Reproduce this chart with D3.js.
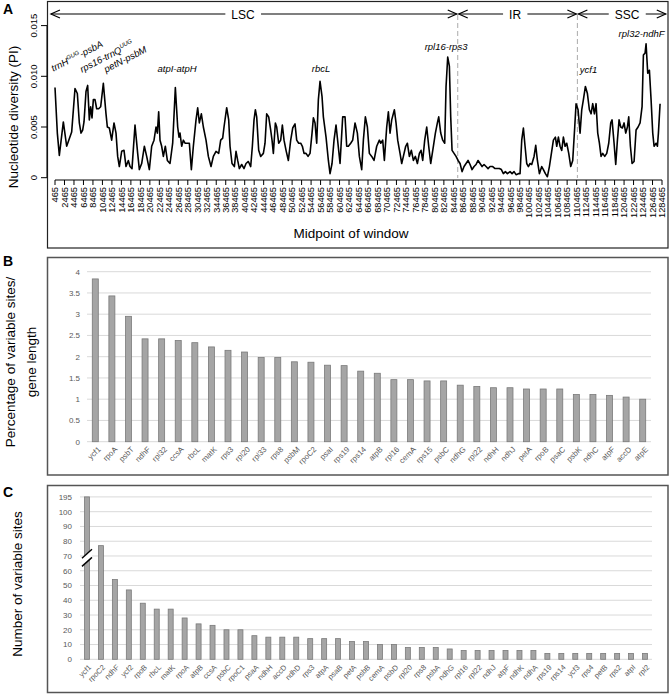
<!DOCTYPE html>
<html><head><meta charset="utf-8">
<script src="https://cdn.jsdelivr.net/npm/d3@7"></script>
<style>body{margin:0;background:#fff}svg{display:block;font-family:"Liberation Sans",Arial,sans-serif}</style>
</head><body>
<script>
// ---------- Panel A data ----------
const piMid = [465,957,1379,2223,2926,3980,4683,5175,5597,5948,6300,6581,7003,7354,7706,7987,8268,8550,8901,9253,9674,10096,10659,11221,11502,11924,12416,12908,13330,13681,14033,14525,15017,15439,15931,16283,16704,17337,17899,18251,18743,19305,19798,20360,20852,21344,21766,22046,22328,22610,22961,23313,23734,24156,24719,25281,25843,26335,26616,26828,27179,27531,27882,28234,28796,29218,29640,30202,30554,30905,31327,31749,32311,32803,33365,33858,34420,34982,35404,35826,36107,36670,37092,37373,37794,38286,38638,38989,39341,39833,40325,40747,41239,41731,42083,42434,42716,42997,43418,43840,44403,44754,45106,45527,45949,46230,46512,46934,47215,47637,48058,48410,48761,49183,49675,50167,50589,51081,51433,51854,52276,52627,52979,53401,53823,54245,54666,54948,55299,55651,56002,56354,56776,57057,57619,58111,58463,58884,59306,59728,60571,61133,61626,61977,62329,62821,63242,63735,64227,64648,65141,65492,65914,66336,66757,67250,67742,68304,68866,69148,69569,69921,70413,70765,71116,71468,72030,72381,72733,73225,73577,73928,74420,74772,75193,75615,76037,76459,76881,77302,77654,78005,78427,78849,79271,79693,80255,80677,81099,81380,81802,82223,82645,82926,83278,83629,83911,84192,84614,85035,85457,85879,86301,86723,87144,87566,87988,88410,88832,89253,89675,90097,90519,90941,91362,91784,92206,92768,93261,93753,94174,94596,95018,95440,95862,96424,96846,97268,97689,98182,98533,98885,99236,99588,99939,100291,100642,100994,101486,101838,102189,102611,103103,103454,103876,104298,104720,105141,105563,105985,106266,106618,106969,107321,107672,108024,108375,108797,109219,109640,110062,110343,110765,111187,111539,111890,112312,112734,113155,113507,113858,114210,114562,114913,115265,115616,115968,116390,116811,117233,117655,117936,118358,118709,119061,119413,119764,120116,120467,120819,121170,121451,121803,122154,122576,122998,123420,123841,124263,124544,124896,125106,125458,125810,126161,126513,126794,127216,127497,127708,128059];
const piVal = [0.0089,0.0044,0.0022,0.0055,0.0031,0.0045,0.0088,0.0083,0.0054,0.0044,0.0047,0.0055,0.0085,0.0091,0.0057,0.0070,0.0059,0.0077,0.0077,0.0068,0.0068,0.0070,0.0093,0.0063,0.0050,0.0049,0.0037,0.0054,0.0044,0.0021,0.0011,0.0026,0.0027,0.0011,0.0017,0.0011,0.0009,0.0052,0.0024,0.0008,0.0014,0.0031,0.0021,0.0008,0.0031,0.0037,0.0050,0.0044,0.0065,0.0037,0.0031,0.0021,0.0031,0.0017,0.0014,0.0034,0.0089,0.0050,0.0040,0.0044,0.0031,0.0037,0.0034,0.0034,0.0034,0.0008,0.0031,0.0057,0.0069,0.0054,0.0063,0.0050,0.0037,0.0021,0.0011,0.0021,0.0026,0.0024,0.0037,0.0039,0.0050,0.0069,0.0057,0.0031,0.0014,0.0011,0.0026,0.0017,0.0009,0.0013,0.0009,0.0014,0.0016,0.0011,0.0031,0.0057,0.0067,0.0060,0.0027,0.0021,0.0024,0.0034,0.0063,0.0060,0.0047,0.0037,0.0024,0.0054,0.0050,0.0034,0.0037,0.0052,0.0037,0.0027,0.0017,0.0037,0.0049,0.0053,0.0037,0.0034,0.0034,0.0031,0.0024,0.0024,0.0021,0.0024,0.0044,0.0059,0.0054,0.0034,0.0077,0.0095,0.0080,0.0060,0.0040,0.0017,0.0004,0.0014,0.0037,0.0052,0.0014,0.0060,0.0060,0.0031,0.0031,0.0034,0.0037,0.0054,0.0044,0.0021,0.0008,0.0037,0.0060,0.0050,0.0024,0.0021,0.0017,0.0031,0.0037,0.0034,0.0037,0.0017,0.0050,0.0065,0.0044,0.0057,0.0067,0.0054,0.0037,0.0024,0.0014,0.0021,0.0031,0.0034,0.0021,0.0027,0.0017,0.0021,0.0014,0.0024,0.0027,0.0017,0.0037,0.0050,0.0031,0.0014,0.0031,0.0044,0.0054,0.0060,0.0044,0.0037,0.0034,0.0090,0.0119,0.0110,0.0060,0.0027,0.0024,0.0021,0.0017,0.0014,0.0006,0.0011,0.0014,0.0017,0.0013,0.0008,0.0011,0.0013,0.0017,0.0014,0.0011,0.0013,0.0011,0.0009,0.0011,0.0011,0.0009,0.0009,0.0009,0.0008,0.0004,0.0006,0.0004,0.0006,0.0004,0.0006,0.0003,0.0004,0.0004,0.0037,0.0049,0.0031,0.0014,0.0011,0.0014,0.0013,0.0021,0.0032,0.0017,0.0004,0.0011,0.0008,0.0004,0.0001,0.0011,0.0024,0.0037,0.0040,0.0031,0.0040,0.0031,0.0027,0.0040,0.0031,0.0034,0.0024,0.0011,0.0017,0.0050,0.0073,0.0067,0.0044,0.0067,0.0077,0.0090,0.0083,0.0067,0.0063,0.0073,0.0063,0.0073,0.0044,0.0034,0.0021,0.0024,0.0021,0.0024,0.0034,0.0054,0.0057,0.0034,0.0013,0.0037,0.0057,0.0050,0.0049,0.0054,0.0044,0.0050,0.0060,0.0031,0.0014,0.0016,0.0047,0.0050,0.0054,0.0070,0.0121,0.0123,0.0132,0.0103,0.0106,0.0077,0.0044,0.0031,0.0034,0.0031,0.0044,0.0073];
const xTicksA = d3.range(465, 128466, 2000);
const yTicksA = [0, 0.005, 0.010, 0.015];
const yTickLabelsA = ["0", "0.005", "0.010", "0.015"];
const regionNames = ["LSC", "IR", "SSC"];
const regionStart = [-600, 85394, 110620];
const regionEnd = [85394, 110620, 129470];
const regionLabelBp = [40115, 97479, 121100];
const boundaryBp = [85394, 110620];
const annotMain = ["trnH", "rps16-trnQ", "petN-psbM", "atpI-atpH", "rbcL", "rpl16-rps3", "ycf1", "rpl32-ndhF"];
const annotSup = ["GUG", "UUG", "", "", "", "", "", ""];
const annotTail = ["-psbA", "", "", "", "", "", "", ""];
const annotBp = [106, 6159, 11221, 26195, 56564, 82927, 112981, 124155];
const annotPi = [0.01045, 0.01036, 0.01036, 0.01045, 0.01042, 0.01259, 0.01036, 0.01385];

// ---------- Panel B data ----------
const genesB = ["ycf1","rpoA","psbT","ndhF","rpl32","ccsA","rbcL","matK","rps3","rpl20","rpl33","rps8","psbM","rpoC2","psaI","rps19","rps14","atpB","rpl16","cemA","rps15","psbC","ndhG","rpl22","ndhH","ndhJ","petA","rpoB","psaC","psbK","ndhC","atpF","accD","atpE"];
const pctB = [3.83,3.43,2.95,2.42,2.42,2.38,2.33,2.23,2.15,2.11,1.98,1.98,1.88,1.87,1.80,1.79,1.66,1.61,1.46,1.46,1.43,1.43,1.33,1.30,1.27,1.27,1.24,1.24,1.24,1.11,1.11,1.09,1.05,1.00];
const ticksB = [0,0.5,1,1.5,2,2.5,3,3.5,4];

// ---------- Panel C data ----------
const genesC = ["ycf1","rpoC2","ndhF","ycf2","rpoB","rbcL","matK","rpoA","atpB","ccsA","psbC","rpoC1","psaA","ndhH","accD","ndhD","rps3","atpA","psaB","petA","psbB","cemA","psbD","rpl20","rps8","psbA","ndhG","rpl16","rpl22","ndhJ","atpF","ndhK","ndhA","rps19","rps14","ycf3","rps4","petB","rps2","atpI","rpl2"];
const countC = [195,77,54,47,38,34,34,28,24,23,20,20,16,15,15,15,14,14,14,12,12,10,10,8,8,8,7,6,6,6,6,6,6,4,4,4,4,4,4,4,4];
const ticksC = [0,10,20,30,40,50,60,70,80,90,100,195];

// ---------- drawing ----------
const svg = d3.select("body").append("svg").attr("width", 670).attr("height", 695);

// ===== Panel A =====
const gA = svg.append("g");
const xA = d3.scaleLinear().domain([465, 128465]).range([55, 662]);
const yA = d3.scaleLinear().domain([0, 0.015]).range([177.7, 25.6]);

gA.append("rect").attr("x", 47.5).attr("y", 1.5).attr("width", 620.5).attr("height", 246.5)
  .attr("fill", "none").attr("stroke", "#222").attr("stroke-width", 1.2);
svg.append("text").attr("x", 3).attr("y", 14).attr("font-size", 14).attr("font-weight", "bold").text("A");

// x axis
const xAxisA = gA.append("g").attr("transform", "translate(0,180)");
xAxisA.append("line").attr("x1", xA(465)).attr("x2", xA(128465)).attr("stroke", "#000");
xAxisA.selectAll("line.t").data(xTicksA).join("line").attr("class", "t")
  .attr("x1", d => xA(d)).attr("x2", d => xA(d)).attr("y1", 0).attr("y2", 5).attr("stroke", "#000");
xAxisA.selectAll("text").data(xTicksA).join("text")
  .attr("transform", d => `translate(${xA(d)},7) rotate(-90)`)
  .attr("text-anchor", "end").attr("dy", "0.35em").attr("font-size", 9.3).text(d => d);

// y axis
const yAxisA = gA.append("g");
yAxisA.append("line").attr("x1", 47).attr("x2", 47).attr("y1", yA(0)).attr("y2", yA(0.015)).attr("stroke", "#000");
yAxisA.selectAll("line.t").data(yTicksA).join("line").attr("class", "t")
  .attr("x1", 41).attr("x2", 47).attr("y1", d => yA(d)).attr("y2", d => yA(d)).attr("stroke", "#000");
yAxisA.selectAll("text").data(yTicksA).join("text")
  .attr("transform", d => `translate(37,${yA(d)}) rotate(-90)`)
  .attr("text-anchor", "middle").attr("font-size", 9.5).text((d, i) => yTickLabelsA[i]);

svg.append("text").attr("transform", "translate(18,117) rotate(-90)").attr("text-anchor", "middle")
  .attr("font-size", 13.5).text("Nucleotide diversity (PI)");
svg.append("text").attr("x", 351).attr("y", 238).attr("text-anchor", "middle")
  .attr("font-size", 13.5).text("Midpoint of window");

// boundaries
gA.selectAll("line.b").data(boundaryBp).join("line").attr("class", "b")
  .attr("x1", d => xA(d)).attr("x2", d => xA(d)).attr("y1", 15).attr("y2", 178)
  .attr("stroke", "#aaa").attr("stroke-dasharray", "5,3").attr("stroke-width", 1);

// region arrows
const arrowY = 14;
const gArr = gA.append("g");
regionNames.forEach((name, i) => {
  const x1 = xA(regionStart[i]) + 1, x2 = xA(regionEnd[i]) - 1;
  gArr.append("line").attr("x1", x1).attr("x2", x2).attr("y1", arrowY).attr("y2", arrowY).attr("stroke", "#000").attr("stroke-width", 1.2);
  gArr.append("path").attr("d", `M${x1 + 9},${arrowY - 4}L${x1},${arrowY}L${x1 + 9},${arrowY + 4}`)
    .attr("fill", "none").attr("stroke", "#000").attr("stroke-width", 1.2);
  gArr.append("path").attr("d", `M${x2 - 9},${arrowY - 4}L${x2},${arrowY}L${x2 - 9},${arrowY + 4}`)
    .attr("fill", "none").attr("stroke", "#000").attr("stroke-width", 1.2);
  const r = gArr.append("rect").attr("fill", "#fff");
  const t = gArr.append("text").attr("x", xA(regionLabelBp[i])).attr("y", arrowY + 4.5)
    .attr("text-anchor", "middle").attr("font-size", 12).text(name);
  const bb = t.node().getBBox();
  r.attr("x", bb.x - 6).attr("y", arrowY - 3).attr("width", bb.width + 12).attr("height", 6);
});

// line
gA.append("path").datum(piMid.map((m, i) => [m, piVal[i]]))
  .attr("d", d3.line().x(d => xA(d[0])).y(d => yA(d[1])))
  .attr("fill", "none").attr("stroke", "#000").attr("stroke-width", 1.6).attr("stroke-linejoin", "round");

// annotations
annotMain.forEach((txt, i) => {
  const rotated = i < 3;
  const t = gA.append("text").attr("font-size", 9.5).attr("font-style", "italic")
    .attr("text-anchor", rotated ? "start" : "middle")
    .attr("transform", `translate(${xA(annotBp[i])},${yA(annotPi[i])})` + (rotated ? " rotate(-27)" : ""));
  t.append("tspan").text(txt);
  if (annotSup[i]) t.append("tspan").attr("font-size", 6).attr("dy", -4).text(annotSup[i]);
  if (annotTail[i]) t.append("tspan").attr("dy", 4).text(annotTail[i]);
});

// ===== Panel B =====
const gB = svg.append("g");
gB.append("rect").attr("x", 47.5).attr("y", 257.5).attr("width", 620.5).attr("height", 217.5)
  .attr("fill", "none").attr("stroke", "#555").attr("stroke-width", 1.5);
svg.append("text").attr("x", 3).attr("y", 266).attr("font-size", 14).attr("font-weight", "bold").text("B");
const xB = d3.scaleBand().domain(genesB).range([87, 651]);
const yB = d3.scaleLinear().domain([0, 4]).range([441.7, 271.7]);
gB.selectAll("line.g").data(ticksB).join("line").attr("class", "g")
  .attr("x1", 87).attr("x2", 651).attr("y1", d => yB(d)).attr("y2", d => yB(d))
  .attr("stroke", "#d9d9d9").attr("stroke-width", 1);
gB.selectAll("text.yt").data(ticksB).join("text").attr("class", "yt")
  .attr("x", 80).attr("y", d => yB(d)).attr("dy", "0.35em").attr("text-anchor", "end")
  .attr("font-size", 8).attr("fill", "#595959").text(d => d);
gB.selectAll("rect.bar").data(genesB).join("rect").attr("class", "bar")
  .attr("x", d => xB(d) + xB.bandwidth() / 2 - 3).attr("width", 6)
  .attr("y", (d, i) => yB(pctB[i])).attr("height", (d, i) => yB(0) - yB(pctB[i]))
  .attr("fill", "#a5a5a5").attr("stroke", "#7a7a7a").attr("stroke-width", 0.8);
gB.selectAll("text.xl").data(genesB).join("text").attr("class", "xl")
  .attr("transform", d => `translate(${xB(d) + xB.bandwidth() / 2 + 4},448) rotate(-45)`)
  .attr("text-anchor", "end").attr("dy", "0.35em").attr("font-size", 7.8).attr("fill", "#595959").text(d => d);
const tB = svg.append("text").attr("transform", "translate(0,362) rotate(-90)").attr("text-anchor", "middle").attr("font-size", 13.5);
tB.append("tspan").attr("x", 0).attr("y", 15).text("Percentage of variable sites/");
tB.append("tspan").attr("x", 0).attr("y", 36).text("gene length");

// ===== Panel C =====
const gC = svg.append("g");
gC.append("rect").attr("x", 47.5).attr("y", 485.5).attr("width", 620.5).attr("height", 207)
  .attr("fill", "none").attr("stroke", "#555").attr("stroke-width", 1.5);
svg.append("text").attr("x", 3).attr("y", 497).attr("font-size", 14).attr("font-weight", "bold").text("C");
const xC = d3.scaleBand().domain(genesC).range([80, 652]);
const yC = d3.scaleLinear().domain([0, 100, 195]).range([659.3, 511.7, 496.9]);
gC.selectAll("line.g").data(ticksC).join("line").attr("class", "g")
  .attr("x1", 80).attr("x2", 652).attr("y1", d => yC(d)).attr("y2", d => yC(d))
  .attr("stroke", "#d9d9d9").attr("stroke-width", 1);
gC.selectAll("text.yt").data(ticksC).join("text").attr("class", "yt")
  .attr("x", 72).attr("y", d => yC(d)).attr("dy", "0.35em").attr("text-anchor", "end")
  .attr("font-size", 8).attr("fill", "#595959").text(d => d);
gC.selectAll("rect.bar").data(genesC).join("rect").attr("class", "bar")
  .attr("x", d => xC(d) + xC.bandwidth() / 2 - 2.5).attr("width", 5)
  .attr("y", (d, i) => yC(countC[i])).attr("height", (d, i) => yC(0) - yC(countC[i]))
  .attr("fill", "#a5a5a5").attr("stroke", "#7a7a7a").attr("stroke-width", 0.8);
// axis break on the first (largest) bar
{
  const cx = xC(genesC[0]) + xC.bandwidth() / 2;
  const yLo = yC(66), yHi = yC(71.5);
  gC.append("path").attr("d", `M${cx - 5},${yLo + 4}L${cx + 5},${yLo - 4}L${cx + 5},${yHi - 4}L${cx - 5},${yHi + 4}Z`).attr("fill", "#fff");
  [yLo, yHi].forEach(yy => gC.append("line").attr("x1", cx - 5).attr("y1", yy + 4.5).attr("x2", cx + 5).attr("y2", yy - 4.5)
    .attr("stroke", "#000").attr("stroke-width", 1.4));
}
gC.selectAll("text.xl").data(genesC).join("text").attr("class", "xl")
  .attr("transform", d => `translate(${xC(d) + xC.bandwidth() / 2 + 3},666) rotate(-45)`)
  .attr("text-anchor", "end").attr("dy", "0.35em").attr("font-size", 7.5).attr("fill", "#595959").text(d => d);
svg.append("text").attr("transform", "translate(22,584) rotate(-90)").attr("text-anchor", "middle")
  .attr("font-size", 13.5).text("Number of variable sites");
</script>
</body></html>
